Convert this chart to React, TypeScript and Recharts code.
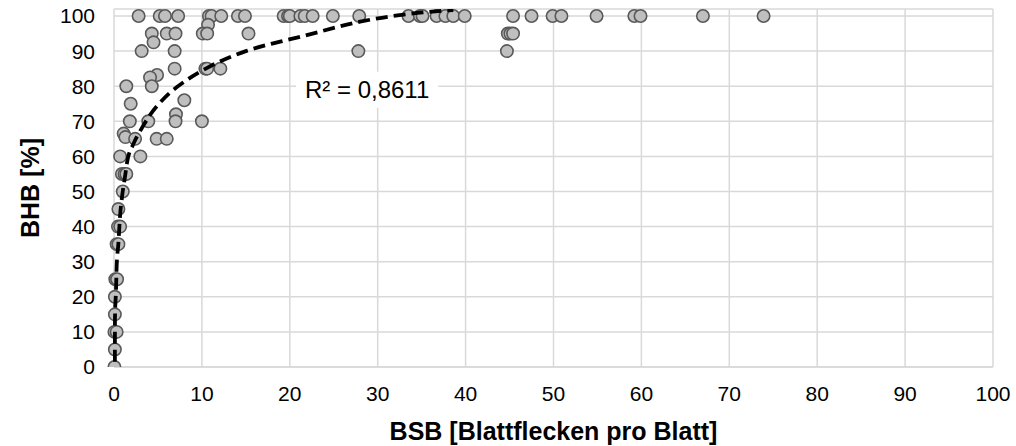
import { ScatterChart, Scatter, XAxis, YAxis, CartesianGrid, Label } from 'recharts'

// BSB (x) and BHB (y), same order in both arrays
const bsb = [
  2.8, 5.2, 5.8, 7.3, 10.8, 11.1, 12.2, 14.1, 14.9, 19.3, 19.8, 20.0, 21.2, 21.7, 22.6, 24.9, 27.9,
  33.5, 34.8, 35.1, 36.7, 37.7, 38.6, 39.9, 45.4, 47.5, 49.9, 50.9, 54.9, 59.2, 59.9, 67.0, 73.9,
  10.7,
  4.3, 6.0, 7.0, 10.1, 10.6, 15.3, 44.8, 45.1, 45.4,
  4.5,
  3.15, 6.9, 27.8, 44.7,
  6.9, 10.4, 10.6, 12.1,
  4.9, 4.1,
  1.4, 4.3,
  8.0, 1.9, 7.05,
  1.8, 3.9, 7.0, 10.0,
  1.1, 1.3, 2.4, 4.85, 6.0,
  0.7, 3.0,
  0.9, 1.2, 1.4,
  1.0, 0.5, 0.45, 0.7, 0.3, 0.5, 0.15, 0.35, 0.1, 0.1, 0.05, 0.3, 0.1, 0.05,
]
const bhb = [
  100, 100, 100, 100, 100, 100, 100, 100, 100, 100, 100, 100, 100, 100, 100, 100, 100,
  100, 100, 100, 100, 100, 100, 100, 100, 100, 100, 100, 100, 100, 100, 100, 100,
  97.5,
  95, 95, 95, 95, 95, 95, 95, 95, 95,
  92.5,
  90, 90, 90, 90,
  85, 85, 85, 85,
  83.2, 82.5,
  80, 80,
  76, 75, 72,
  70, 70, 70, 70,
  66.5, 65.5, 65, 65, 65,
  60, 60,
  55, 55, 55,
  50, 45, 40, 40, 35, 35, 25, 25, 20, 15, 10, 10, 5, 0,
]

// dashed trend curve
const trendX = [0.1, 0.11, 0.23, 0.3, 0.5, 0.68, 0.87, 1.25, 1.5, 2.2, 3.15, 4.1, 5.6, 8.3, 10.5, 15, 18.9, 21.2, 28, 33.5, 38.6]
const trendY = [1.5, 14, 22, 28.6, 35.2, 42.8, 47.6, 54.2, 58.5, 63.5, 68, 71.8, 76.3, 81.8, 85.1, 90, 92.7, 94.1, 98.4, 100.6, 101.7]

const xTicks = [0, 10, 20, 30, 40, 50, 60, 70, 80, 90, 100]
const yTicks = [0, 10, 20, 30, 40, 50, 60, 70, 80, 90, 100]

const xTitle = 'BSB [Blattflecken pro Blatt]'
const yTitle = 'BHB [%]'
const r2Text = 'R² = 0,8611'
const r2Pos = [{ x: 28.8, y: 79 }]

const FONT = "'Liberation Sans', Arial, sans-serif"

const points = bsb.map((x, i) => ({ x, y: bhb[i] }))
const trend = trendX.map((x, i) => ({ x, y: trendY[i] }))

// eslint-disable-next-line @typescript-eslint/no-explicit-any
function Dot(props: any) {
  const { cx, cy } = props
  return <circle cx={cx} cy={cy} r={6.2} fill="#bfbfbf" stroke="#595959" strokeWidth={1.6} />
}

function NoDot() {
  return <g />
}

// eslint-disable-next-line @typescript-eslint/no-explicit-any
function R2Label(props: any) {
  const { cx, cy } = props
  return (
    <g>
      <rect x={cx - 71} y={cy - 18} width={142} height={36} fill="#fff" />
      <text x={cx} y={cy + 8.5} textAnchor="middle" fontSize={24} fontFamily={FONT} fill="#000">
        {r2Text}
      </text>
    </g>
  )
}

export default function App() {
  return (
    <div style={{ position: 'absolute', left: 0, top: 0, width: 1016, height: 446, background: '#fff' }}>
      <ScatterChart width={1016} height={446} margin={{ top: 9, right: 23, bottom: 0, left: 0 }}>
        <CartesianGrid stroke="#d9d9d9" strokeWidth={1.5} />
        <XAxis
          dataKey="x"
          type="number"
          domain={[0, 100]}
          ticks={xTicks}
          interval={0}
          height={79}
          tickSize={0}
          tickMargin={19}
          tickLine={false}
          axisLine={{ stroke: '#d9d9d9', strokeWidth: 1.5 }}
          tick={{ fill: '#000', fontSize: 21, fontFamily: FONT }}
        >
          <Label
            content={({ viewBox }: any) => (
              <text
                x={viewBox.x + viewBox.width / 2}
                y={440}
                textAnchor="middle"
                fontSize={25}
                fontWeight="bold"
                fontFamily={FONT}
                fill="#000"
              >
                {xTitle}
              </text>
            )}
          />
        </XAxis>
        <YAxis
          dataKey="y"
          type="number"
          domain={[0, 102]}
          allowDataOverflow
          ticks={yTicks}
          interval={0}
          width={114}
          tickSize={0}
          tickMargin={19}
          tickLine={false}
          axisLine={false}
          tick={{ fill: '#000', fontSize: 21, fontFamily: FONT }}
        >
          <Label
            content={({ viewBox }: any) => {
              const cy = viewBox.y + viewBox.height / 2
              return (
                <text
                  x={39}
                  y={cy}
                  transform={`rotate(-90, 39, ${cy})`}
                  textAnchor="middle"
                  fontSize={25}
                  fontWeight="bold"
                  fontFamily={FONT}
                  fill="#000"
                >
                  {yTitle}
                </text>
              )
            }}
          />
        </YAxis>
        <Scatter data={points} shape={<Dot />} isAnimationActive={false} />
        <Scatter
          data={trend}
          shape={<NoDot />}
          line={{ stroke: '#000', strokeWidth: 3.8, strokeDasharray: '12 6' }}
          lineJointType="monotoneX"
          isAnimationActive={false}
        />
        <Scatter data={r2Pos} shape={<R2Label />} isAnimationActive={false} />
      </ScatterChart>
    </div>
  )
}
